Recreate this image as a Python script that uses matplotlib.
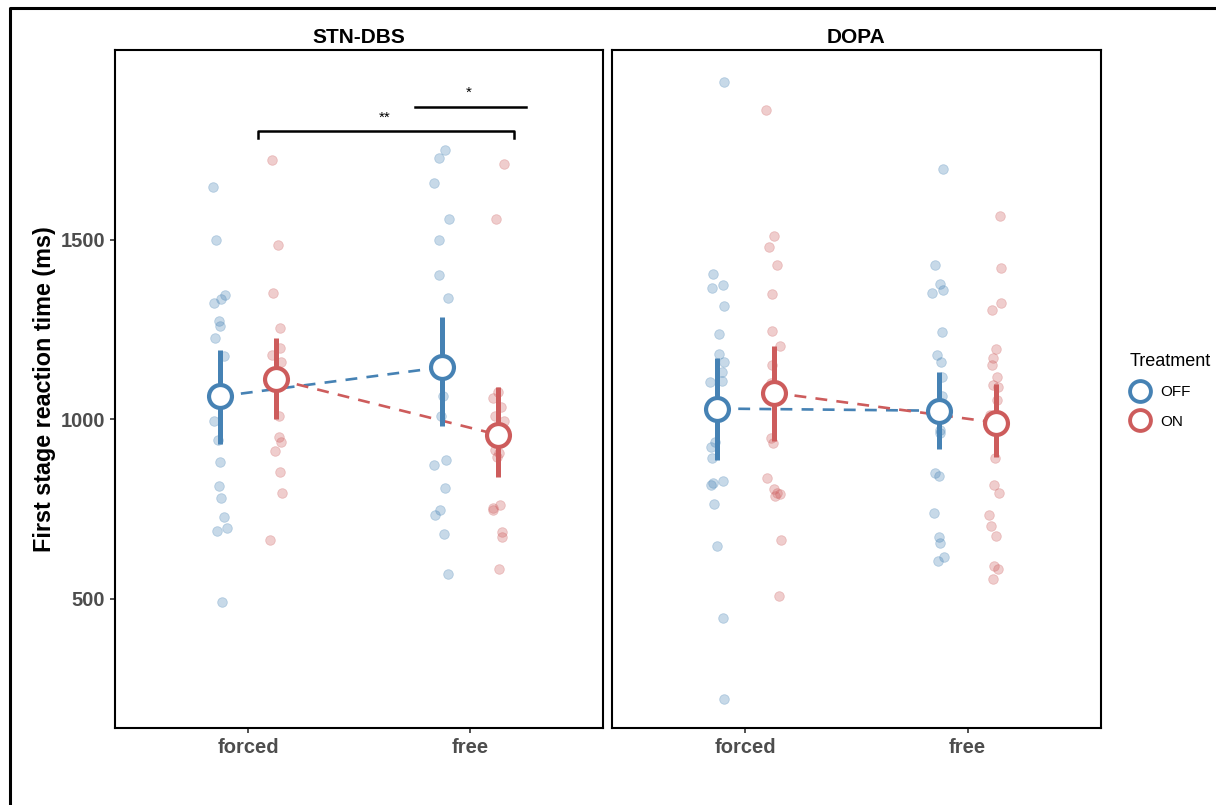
import numpy as np
import matplotlib
matplotlib.use("Agg")
import matplotlib.pyplot as plt
from matplotlib.lines import Line2D

plt.rcParams['font.family'] = ['Liberation Sans', 'DejaVu Sans']

# ---------------- data ----------------
panels = ["STN-DBS", "DOPA"]
conditions = ["forced", "free"]
treatments = ["OFF", "ON"]
colors = {"OFF": "#4682B4", "ON": "#CD5C5C"}

# individual observations (ms)
stn_forced_off = [1648, 1500, 1347, 1335, 1325, 1274, 1260, 1226, 1177, 996, 943, 882, 815, 780, 729, 697, 690, 492]
stn_forced_on = [1723, 1486, 1353, 1254, 1198, 1180, 1161, 1008, 952, 938, 913, 852, 794, 664]
stn_free_off = [1751, 1728, 1658, 1559, 1500, 1401, 1339, 1065, 1010, 887, 873, 810, 748, 734, 680, 570]
stn_free_on = [1711, 1559, 1075, 1059, 1033, 1010, 996, 915, 906, 894, 762, 754, 748, 687, 673, 584]
dopa_forced_off = [1940, 1406, 1374, 1366, 1315, 1237, 1182, 1159, 1133, 1107, 1104, 937, 924, 893, 822, 828, 816, 763, 646, 447, 221]
dopa_forced_on = [1861, 1511, 1479, 1429, 1350, 1245, 1204, 1151, 1100, 948, 934, 837, 807, 793, 787, 795, 664, 509]
dopa_free_off = [1697, 1429, 1378, 1361, 1353, 1243, 1178, 1161, 1119, 1064, 971, 962, 850, 841, 739, 671, 655, 616, 604]
dopa_free_on = [1567, 1421, 1325, 1305, 1196, 1171, 1152, 1119, 1096, 1090, 1054, 1013, 892, 818, 796, 734, 703, 675, 590, 583, 556]

# summary: mean, lower, upper  (order: forced, free)
stn_off_mean = [1064, 1145]; stn_off_lo = [932, 982]; stn_off_hi = [1194, 1286]
stn_on_mean = [1112, 957];  stn_on_lo = [1000, 838]; stn_on_hi = [1226, 1089]
dopa_off_mean = [1030, 1024]; dopa_off_lo = [887, 917]; dopa_off_hi = [1171, 1133]
dopa_on_mean = [1074, 991];  dopa_on_lo = [940, 894]; dopa_on_hi = [1204, 1098]

raw = {
    "STN-DBS": {"OFF": [stn_forced_off, stn_free_off], "ON": [stn_forced_on, stn_free_on]},
    "DOPA": {"OFF": [dopa_forced_off, dopa_free_off], "ON": [dopa_forced_on, dopa_free_on]},
}
summ = {
    "STN-DBS": {"OFF": (stn_off_mean, stn_off_lo, stn_off_hi), "ON": (stn_on_mean, stn_on_lo, stn_on_hi)},
    "DOPA": {"OFF": (dopa_off_mean, dopa_off_lo, dopa_off_hi), "ON": (dopa_on_mean, dopa_on_lo, dopa_on_hi)},
}

# ---------------- figure ----------------
W, H = 1216, 805
fig = plt.figure(figsize=(W / 100, H / 100), dpi=100)
fig.patch.set_facecolor("white")

bottom = (H - 728) / H
height = (728 - 50) / H
ax_pos = [(115, 603), (612, 1101)]
dodge = {"OFF": -0.127, "ON": 0.127}
rng = np.random.default_rng(3)

axes = []
for pi, panel in enumerate(panels):
    x0, x1 = ax_pos[pi]
    ax = fig.add_axes([x0 / W, bottom, (x1 - x0) / W, height])
    axes.append(ax)
    for tr in treatments:
        c = colors[tr]
        # jittered points
        for ci, vals in enumerate(raw[panel][tr]):
            xc = ci + 1 + dodge[tr]
            xs = xc + rng.uniform(-0.035, 0.035, len(vals))
            ax.scatter(xs, vals, s=48, color=c, alpha=0.3, edgecolors=c, linewidths=0.6, zorder=2)
        mean, lo, hi = summ[panel][tr]
        xm = [i + 1 + dodge[tr] for i in range(len(conditions))]
        ax.plot(xm, mean, ls=(0, (4.5, 3.5)), color=c, lw=1.9, zorder=3)
        ax.vlines(xm, lo, hi, color=c, lw=3.6, zorder=4)
        ax.plot(xm, mean, ls="none", marker="o", ms=16.5, mfc="white", mec=c, mew=3.0, zorder=5)

    ax.set_xlim(0.4, 2.6)
    ax.set_ylim(140, 2029)
    ax.set_xticks([1, 2])
    ax.set_xticklabels(conditions)
    ax.set_yticks([500, 1000, 1500])
    ax.tick_params(axis="both", colors="#333333", labelcolor="#4d4d4d", length=3.5, width=1.2,
                   labelsize=14.5)
    for lab in ax.get_xticklabels() + ax.get_yticklabels():
        lab.set_fontweight("bold")
    for sp in ax.spines.values():
        sp.set_linewidth(1.5)
        sp.set_color("black")
    ax.set_title(panel, fontsize=15, fontweight="bold", pad=5)
    ax.set_facecolor("white")

axes[1].set_yticklabels([])
axes[1].tick_params(axis="y", length=0)
axes[0].set_ylabel("First stage reaction time (ms)", fontsize=16.8, fontweight="bold", labelpad=3)

# significance brackets (left panel)
ax = axes[0]
ax.plot([1.045, 1.045, 2.199, 2.199], [1784, 1804, 1804, 1784], color="black", lw=1.8, zorder=6)
ax.text(1.617, 1822, "**", ha="center", va="bottom", fontsize=11, zorder=6)
ax.plot([1.753, 2.253], [1871, 1871], color="black", lw=1.8, zorder=6)
ax.text(1.996, 1890, "*", ha="center", va="bottom", fontsize=11, zorder=6)

# legend
handles = [Line2D([], [], ls="none", marker="o", ms=15, mfc="white", mec=colors[t], mew=2.8, label=t)
           for t in treatments]
leg = fig.legend(handles=handles, title="Treatment", loc="upper left",
                 bbox_to_anchor=(1124 / W, 1 - 347 / H), frameon=False,
                 fontsize=11, title_fontsize=13, handlelength=1.3, handletextpad=0.7,
                 labelspacing=1.0, borderaxespad=0)
leg._legend_box.align = "left"

# outer frame (top & left visible)
fx = 10 / W
fy = 1 - 8 / H
fig.add_artist(Line2D([fx, fx, 1.0], [0.0, fy, fy], transform=fig.transFigure, color="black", lw=2.2))

fig.savefig("out.png", dpi=100, facecolor="white")
